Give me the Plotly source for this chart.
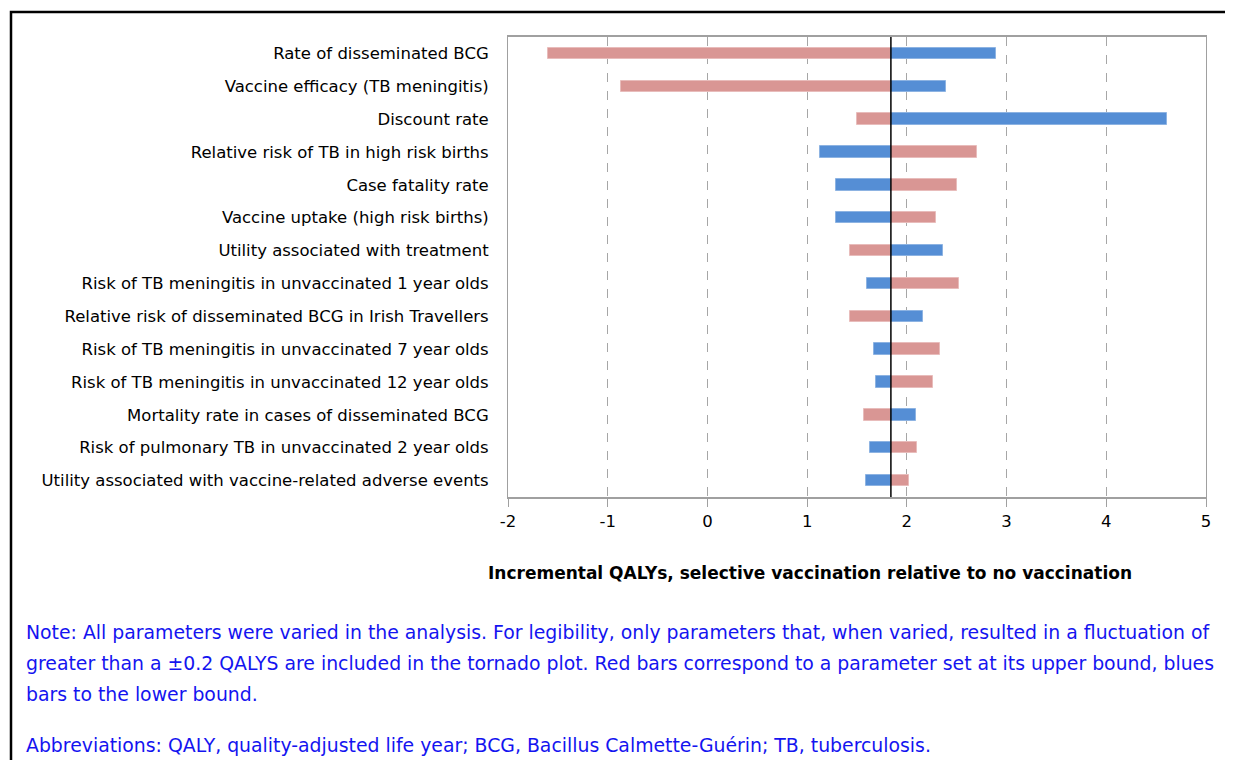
import plotly.graph_objects as go

# ---- data ----
categories = [
    "Rate of disseminated BCG",
    "Vaccine efficacy (TB meningitis)",
    "Discount rate",
    "Relative risk of TB in high risk births",
    "Case fatality rate",
    "Vaccine uptake (high risk births)",
    "Utility associated with treatment",
    "Risk of TB meningitis in unvaccinated 1 year olds",
    "Relative risk of disseminated BCG in Irish Travellers",
    "Risk of TB meningitis in unvaccinated 7 year olds",
    "Risk of TB meningitis in unvaccinated 12 year olds",
    "Mortality rate in cases of disseminated BCG",
    "Risk of pulmonary TB in unvaccinated 2 year olds",
    "Utility associated with vaccine-related adverse events",
]
# QALYs with parameter at lower bound (blue) and upper bound (red)
lower_bound = [2.89, 2.39, 4.61, 1.13, 1.29, 1.29, 2.36, 1.60, 2.16, 1.67, 1.69, 2.09, 1.63, 1.59]
upper_bound = [-1.60, -0.87, 1.50, 2.70, 2.50, 2.29, 1.43, 2.52, 1.43, 2.33, 2.26, 1.57, 2.10, 2.02]
base_value = 1.84
x_ticks = [-2, -1, 0, 1, 2, 3, 4, 5]

x_title = "Incremental QALYs, selective vaccination relative to no vaccination"
note_lines = [
    "Note: All parameters were varied in the analysis. For legibility, only parameters that, when varied, resulted in a fluctuation of",
    "greater than a \u00b10.2 QALYS are included in the tornado plot. Red bars correspond to a parameter set at its upper bound, blues",
    "bars to the lower bound.",
    "Abbreviations: QALY, quality-adjusted life year; BCG, Bacillus Calmette-Gu\u00e9rin; TB, tuberculosis.",
]

# ---- layout geometry (page pixels; page body has an 8px margin) ----
OFF = 8
PAGE_W, PAGE_H = 1233, 760
W, H = PAGE_W - OFF, PAGE_H - OFF
L, R, T, B = 508 - OFF, 1206 - OFF, 37 - OFF, 497 - OFF
FONT = "DejaVu Sans, sans-serif"


def px_x(px):
    return (px - OFF - L) / (R - L)


def px_y(py):
    return (B - (py - OFF)) / (B - T)


BLUE = "#558ED5"
RED = "#D99694"

fig = go.Figure()
fig.add_trace(go.Bar(
    y=categories,
    x=[v - base_value for v in upper_bound],
    base=base_value,
    orientation="h",
    width=0.35,
    marker=dict(color=RED, line=dict(color="#E8BCBB", width=1)),
    name="Upper bound",
    showlegend=False,
))
fig.add_trace(go.Bar(
    y=categories,
    x=[v - base_value for v in lower_bound],
    base=base_value,
    orientation="h",
    width=0.35,
    marker=dict(color=BLUE, line=dict(color="#8DB3E2", width=1)),
    name="Lower bound",
    showlegend=False,
))

fig.update_layout(
    width=W,
    height=H,
    margin=dict(l=L, r=W - R, t=T, b=H - B, autoexpand=False),
    paper_bgcolor="white",
    plot_bgcolor="white",
    barmode="overlay",
    bargap=0,
    font=dict(family=FONT, size=16.5, color="#000000"),
    xaxis=dict(
        range=[x_ticks[0], x_ticks[-1]],
        tickvals=x_ticks,
        ticktext=[str(t) for t in x_ticks],
        showgrid=True,
        gridcolor="#A6A6A6",
        griddash="dash",
        gridwidth=1,
        zeroline=False,
        showline=True,
        linecolor="#A0A0A0",
        linewidth=1.5,
        mirror=True,
        ticks="outside",
        ticklen=8,
        tickcolor="#A0A0A0",
        tickwidth=1,
        tickfont=dict(size=16.5, family=FONT),
        fixedrange=True,
    ),
    yaxis=dict(
        autorange="reversed",
        categoryorder="array",
        categoryarray=categories,
        showgrid=False,
        zeroline=False,
        showline=True,
        linecolor="#A0A0A0",
        linewidth=1,
        mirror=True,
        ticks="",
        ticklabelstandoff=15,
        tickfont=dict(size=16.5, family=FONT),
        fixedrange=True,
    ),
)

# baseline vertical line
fig.add_shape(type="line", xref="x", yref="paper", x0=base_value, x1=base_value,
              y0=0, y1=1, line=dict(color="#000000", width=1.5))

# outer frame
fig.add_shape(type="rect", xref="paper", yref="paper",
              x0=px_x(11), x1=px_x(PAGE_W + 20), y0=px_y(PAGE_H + 20), y1=px_y(12),
              line=dict(color="#000000", width=2.5), fillcolor="rgba(0,0,0,0)", layer="above")

# axis title
fig.add_annotation(text="<b>" + x_title + "</b>", xref="paper", yref="paper",
                   x=px_x(810), y=px_y(573), xanchor="center", yanchor="middle",
                   showarrow=False, font=dict(size=17, family=FONT, color="#000000"))

# notes
note_y = [632, 663, 694, 746]
for line, yy in zip(note_lines, note_y):
    fig.add_annotation(text=line, xref="paper", yref="paper",
                       x=px_x(24), y=px_y(yy), xanchor="left", yanchor="middle",
                       showarrow=False, font=dict(size=18.85, family=FONT, color="#1414F0"))

fig.write_html("out.html")
